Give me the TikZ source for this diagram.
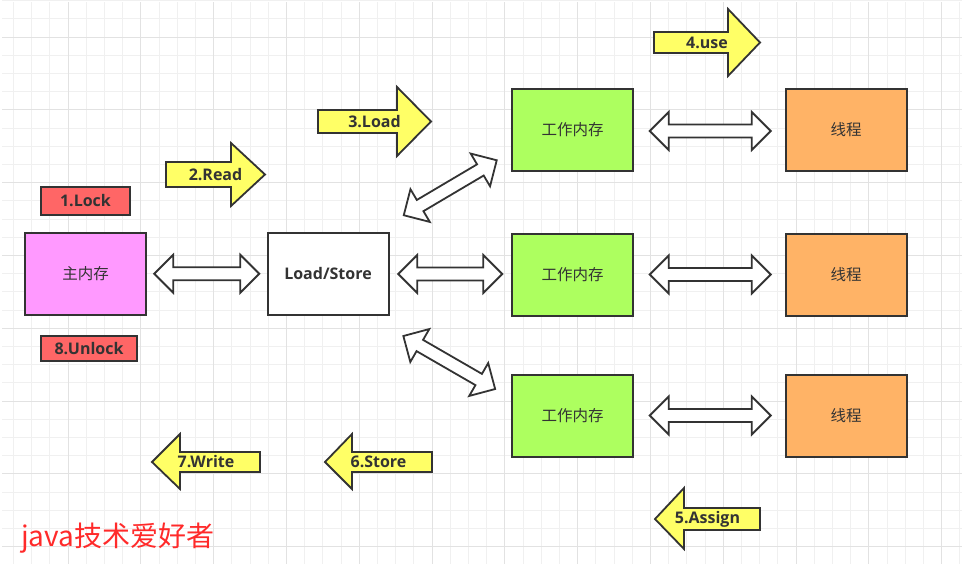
\documentclass[tikz,border=0pt]{standalone}
\usepackage{fontspec}
\newfontfamily\cjk{Noto Sans CJK SC}
\newfontfamily\lab{Open Sans}
\usetikzlibrary{calc}
\definecolor{linegray}{HTML}{333333}
\definecolor{textgray}{HTML}{333333}
\definecolor{minorgrid}{HTML}{F0F0F0}
\definecolor{majorgrid}{HTML}{E2E2E2}
\definecolor{mainpink}{HTML}{FF99FF}
\definecolor{workgreen}{HTML}{ADFF5F}
\definecolor{threadorange}{HTML}{FFB366}
\definecolor{lockred}{HTML}{FF6666}
\definecolor{arrowyellow}{HTML}{FFFF66}
\definecolor{markred}{HTML}{FF2A2A}
\tikzset{
	box/.style={draw=linegray, line width=2pt, minimum width=121pt, minimum height=82pt, text=textgray, font=\cjk\fontsize{15.5}{18}\selectfont},
	lockbox/.style={draw=linegray, line width=2pt, fill=lockred, text=textgray, font=\lab\bfseries\fontsize{16}{19}\selectfont},
	lbl/.style={text=textgray, font=\lab\bfseries\fontsize{16}{19}\selectfont},
	yarrow/.style={draw=linegray, line width=1.8pt, fill=arrowyellow, line join=miter},
	hollow/.style={draw=linegray, line width=1.8pt, fill=white, line join=miter}
}
% hollow double arrow: centre, angle, length
\newcommand{\dblarrow}[3]{
	\begin{scope}[shift={#1}, rotate=#2]
		\pgfmathsetmacro\hl{#3/2}
		\draw[hollow] (-\hl,0) -- (-\hl+19,19) -- (-\hl+19,6.5) -- (\hl-19,6.5) -- (\hl-19,19) -- (\hl,0)
			-- (\hl-19,-19) -- (\hl-19,-6.5) -- (-\hl+19,-6.5) -- (-\hl+19,-19) -- cycle;
	\end{scope}
}
\begin{document}
\begin{tikzpicture}[x=1pt, y=-1pt]
	\useasboundingbox (0,0) rectangle (965,573);
	\fill[white] (0,0) rectangle (965,573);
	\foreach \i in {0,...,52} \draw[minorgrid, line width=1pt] (13.4+18.2*\i,2) -- (13.4+18.2*\i,564);
	\foreach \j in {0,...,30} \draw[minorgrid, line width=1pt] (2,0.6+18.2*\j) -- (962,0.6+18.2*\j);
	\foreach \i in {3,7,...,51} \draw[majorgrid, line width=1pt] (13.4+18.2*\i,2) -- (13.4+18.2*\i,564);
	\foreach \j in {2,6,...,30} \draw[majorgrid, line width=1pt] (2,0.6+18.2*\j) -- (962,0.6+18.2*\j);

	\node[box, fill=mainpink] (mainmem) at (85.5,274) {主内存};
	\node[box, fill=white, font=\lab\bfseries\fontsize{16}{19}\selectfont] (ls) at (328,273.5) {Load/Store};
	\node[box, fill=workgreen] (work1) at (572.5,130) {工作内存};
	\node[box, fill=workgreen] (work2) at (572.5,274.5) {工作内存};
	\node[box, fill=workgreen] (work3) at (572.5,415.5) {工作内存};
	\node[box, fill=threadorange] (thread1) at (846,130) {线程};
	\node[box, fill=threadorange] (thread2) at (846,274.5) {线程};
	\node[box, fill=threadorange] (thread3) at (846,415.5) {线程};
	\node[lockbox, minimum width=89pt, minimum height=28pt] (lock) at (85.5,201) {1.Lock};
	\node[lockbox, minimum width=96pt, minimum height=25pt] (unlock) at (89,348.5) {8.Unlock};

	\dblarrow{($(mainmem.east)!.5!(ls.west)$)}{0}{105}
	\dblarrow{($(ls.east)!.5!(work2.west)$)}{0}{104}
	\dblarrow{($(ls.north east)!.5!(work1.south west)+(0,-14)$)}{30.6}{108}
	\dblarrow{($(ls.south east)!.5!(work3.north west)+(-1,18)$)}{-30}{106}
	\dblarrow{($(work1.east)!.5!(thread1.west)+(1,1)$)}{0}{121}
	\dblarrow{($(work2.east)!.5!(thread2.west)+(1,0)$)}{0}{121}
	\dblarrow{($(work3.east)!.5!(thread3.west)+(1,0)$)}{0}{121}

	\draw[yarrow] (166,162) -- (231,162) -- (231,143) -- (265,174.5) -- (231,206) -- (231,187) -- (166,187) -- cycle;
	\node[lbl] (read) at (215.5,174.5) {2.Read};
	\draw[yarrow] (318,110) -- (397,110) -- (397,87) -- (431,121.5) -- (397,156) -- (397,133) -- (318,133) -- cycle;
	\node[lbl] (load) at (374.5,121.5) {3.Load};
	\draw[yarrow] (654,32) -- (728,32) -- (728,9) -- (760,42.5) -- (728,76) -- (728,53) -- (654,53) -- cycle;
	\node[lbl] (use) at (707,42.5) {4.use};
	\draw[yarrow] (760,508) -- (684,508) -- (684,488) -- (655,519) -- (684,549) -- (684,530) -- (760,530) -- cycle;
	\node[lbl] (assign) at (707.5,519) {5.Assign};
	\draw[yarrow] (432,452) -- (352,452) -- (352,434) -- (325,462) -- (352,489) -- (352,472) -- (432,472) -- cycle;
	\node[lbl] (store) at (378.5,462) {6.Store};
	\draw[yarrow] (260,452) -- (180,452) -- (180,434) -- (152,462) -- (180,489) -- (180,472) -- (260,472) -- cycle;
	\node[lbl] (write) at (206,462) {7.Write};

	\node[text=markred, font=\cjk\fontsize{28}{32}\selectfont, anchor=west, inner sep=0pt] (mark) at (21,538) {java技术爱好者};
\end{tikzpicture}
\end{document}
